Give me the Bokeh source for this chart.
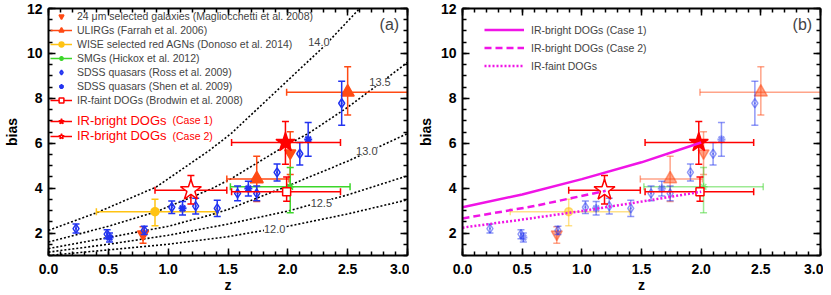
import numpy as np
from bokeh.plotting import figure
from bokeh.models import (Range1d, LinearAxis, SingleIntervalTicker, PrintfTickFormatter,
                          CustomJSTickFormatter, Legend, LegendItem, Label)
from bokeh.layouts import row
from bokeh.embed import file_html
from bokeh.resources import INLINE

# ------------------------------------------------------------------ data
# 24 um selected galaxies (Magliocchetti et al. 2008)
mag_z = [0.79, 2.02]
mag_b = [1.95, 5.56]
mag_b_lo = [0.40, 0.95]
mag_b_hi = [0.33, 0.95]

# ULIRGs (Farrah et al. 2006)
far_z = [1.74, 2.50]
far_z_lo = [0.25, 0.51]
far_z_hi = [0.27, 0.50]
far_b = [4.41, 8.27]
far_b_lo = [1.00, 1.01]
far_b_hi = [1.01, 1.14]

# WISE selected red AGNs (Donoso et al. 2014)
wise_z = [0.89]
wise_z_lo = [0.49]
wise_z_hi = [0.51]
wise_b = [2.95]
wise_b_lo = [0.62]
wise_b_hi = [0.56]

# SMGs (Hickox et al. 2012)
smg_z = [2.02]
smg_z_lo = [0.50]
smg_z_hi = [0.50]
smg_b = [4.06]
smg_b_lo = [1.16]
smg_b_hi = [0.86]

# SDSS quasars (Ross et al. 2009)
ross_z = [0.23, 0.49, 0.80, 1.03, 1.23, 1.41, 1.58, 1.74, 1.91, 2.10, 2.45]
ross_b = [2.20, 1.95, 2.12, 3.15, 3.20, 3.10, 3.77, 3.77, 4.70, 5.53, 7.78]
ross_err = [0.20, 0.20, 0.18, 0.28, 0.35, 0.36, 0.33, 0.33, 0.38, 0.50, 0.98]

# SDSS quasars (Shen et al. 2009)
shen_z = [0.51, 1.12, 1.67, 2.17]
shen_b = [1.80, 3.10, 3.98, 6.17]
shen_err = [0.20, 0.30, 0.33, 0.75]

# IR-faint DOGs (Brodwin et al. 2008)
faint_z = [1.99]
faint_z_lo = [0.46]
faint_z_hi = [0.45]
faint_b = [3.84]
faint_b_lo = [0.42]
faint_b_hi = [0.66]

# IR-bright DOGs (Case 1)
c1_z = [1.98]
c1_z_lo = [0.45]
c1_z_hi = [0.46]
c1_b = [6.03]
c1_b_lo = [0.97]
c1_b_hi = [0.94]

# IR-bright DOGs (Case 2)
c2_z = [1.19]
c2_z_lo = [0.30]
c2_z_hi = [0.30]
c2_b = [3.91]
c2_b_lo = [0.62]
c2_b_hi = [0.65]

# halo-mass bias tracks (log M)
m140_z = [0.0, 0.4, 0.9, 1.35, 1.53, 1.98, 2.3, 2.6]
m140_b = [2.12, 2.90, 4.05, 5.70, 6.45, 8.70, 10.30, 12.00]
m135_z = [0.0, 0.5, 0.9, 1.35, 1.52, 2.0, 2.17, 2.5, 2.79, 3.0]
m135_b = [1.60, 2.30, 2.95, 3.94, 4.40, 5.95, 6.43, 7.60, 8.75, 9.60]
m130_z = [0.0, 0.5, 1.0, 1.35, 1.5, 2.0, 2.5, 2.68, 3.0]
m130_b = [1.31, 1.80, 2.30, 2.80, 3.05, 4.10, 5.20, 5.64, 6.43]
m125_z = [0.0, 0.5, 1.0, 1.5, 2.0, 2.5, 3.0]
m125_b = [1.15, 1.50, 1.90, 2.40, 2.98, 3.70, 4.55]
m120_z = [0.0, 0.5, 1.0, 1.5, 2.0, 2.5, 3.0]
m120_b = [1.00, 1.25, 1.50, 1.84, 2.30, 2.85, 3.48]
mass_names = ["14.0", "13.5", "13.0", "12.5", "12.0"]

# model lines in panel (b)
case1_line_z = [0.0, 0.5, 1.0, 1.5, 2.0]
case1_line_b = [3.15, 3.72, 4.40, 5.15, 6.03]
case2_line_z = [0.0, 0.6, 1.2]
case2_line_b = [2.65, 3.20, 3.88]
faint_line_z = [0.0, 0.5, 1.0, 1.5, 2.0]
faint_line_b = [2.24, 2.60, 2.98, 3.40, 3.84]

# ------------------------------------------------------------------ style
FONT = "Liberation Sans"
ORANGE = "#ff4a14"
GOLD = "#ffc313"
GREEN = "#3cd62a"
BLUE = "#2233f0"
RED = "#ff0000"
MAGENTA = "#f014e6"
H = 295
# where the mass-track labels sit (annotation placement)
MASS_LABEL_POS = [(2.26, 10.5), (2.77, 8.72), (2.66, 5.64), (2.28, 3.34), (1.89, 2.16)]


def make_fig(width, left_border, right_border):
    p = figure(width=width, height=H, x_range=Range1d(0, 3), y_range=Range1d(1, 12),
               output_backend="svg", toolbar_location=None,
               min_border_left=left_border, min_border_right=right_border,
               min_border_top=8, min_border_bottom=0)
    p.xgrid.visible = False
    p.ygrid.visible = False
    p.outline_line_color = None
    xt = SingleIntervalTicker(interval=0.5, num_minor_ticks=5)
    yt = SingleIntervalTicker(interval=2, num_minor_ticks=4)
    bottom = p.below[0]
    left = p.left[0]
    bottom.ticker = xt
    left.ticker = yt
    bottom.formatter = PrintfTickFormatter(format="%.1f")
    bottom.axis_label = "z"
    left.axis_label = "bias"
    blank = CustomJSTickFormatter(code="return ''")
    top = LinearAxis(ticker=xt, formatter=blank)
    right = LinearAxis(ticker=yt, formatter=blank)
    p.add_layout(top, "above")
    p.add_layout(right, "right")
    for ax in (bottom, left, top, right):
        ax.major_tick_in = 7
        ax.major_tick_out = 0
        ax.minor_tick_in = 4
        ax.minor_tick_out = 0
        ax.axis_line_width = 2
        ax.major_tick_line_width = 1.5
        ax.minor_tick_line_width = 1.5
        ax.axis_line_color = "black"
        ax.major_tick_line_color = "black"
        ax.minor_tick_line_color = "black"
        ax.major_label_text_font = FONT
        ax.major_label_text_font_size = "14px"
        ax.major_label_text_font_style = "bold"
        ax.major_label_text_color = "black"
        ax.axis_label_text_font = FONT
        ax.axis_label_text_font_size = "14px"
        ax.axis_label_text_font_style = "bold"
        ax.axis_label_text_color = "black"
    for ax in (top, right):
        ax.major_label_text_font_size = "1px"
        ax.major_label_standoff = 0
    bottom.major_label_standoff = 8
    bottom.axis_label_standoff = 0
    left.major_label_standoff = 6
    left.axis_label_standoff = 4
    return p


def add_sample(p, z, b, b_lo, b_hi, z_lo=None, z_hi=None, color="black", alpha=1.0,
               marker="circle", size=8, fill=True, fill_color=None, mlw=1.5, lw=1.5):
    z = np.asarray(z, float)
    b = np.asarray(b, float)
    blo = b - np.asarray(b_lo, float)
    bhi = b + np.asarray(b_hi, float)
    out = {}
    out["yseg"] = p.segment(x0=z, y0=blo, x1=z, y1=bhi, line_color=color,
                            line_alpha=alpha, line_width=lw)
    out["ycap"] = p.scatter(x=np.concatenate([z, z]), y=np.concatenate([blo, bhi]),
                            marker="dash", size=7, line_color=color, line_alpha=alpha,
                            line_width=lw)
    if z_lo is not None:
        zl = z - np.asarray(z_lo, float)
        zh = z + np.asarray(z_hi, float)
        out["xseg"] = p.segment(x0=zl, y0=b, x1=zh, y1=b, line_color=color,
                                line_alpha=alpha, line_width=lw)
        out["xcap"] = p.scatter(x=np.concatenate([zl, zh]), y=np.concatenate([b, b]),
                                marker="dash", angle=np.pi / 2, size=7, line_color=color,
                                line_alpha=alpha, line_width=lw)
    if fill:
        fc = color
        fa = alpha
    elif fill_color is None:
        fc = "white"
        fa = 0.0
    else:
        fc = fill_color
        fa = 1.0
    out["mark"] = p.scatter(x=z, y=b, marker=marker, size=size, line_color=color,
                            line_alpha=alpha, fill_color=fc, fill_alpha=fa, line_width=mlw)
    return out


def draw_all(p, lit_alpha):
    r = {}
    r["mag"] = add_sample(p, mag_z, mag_b, mag_b_lo, mag_b_hi, color=ORANGE, alpha=lit_alpha,
                          marker="inverted_triangle", size=11)
    r["far"] = add_sample(p, far_z, far_b, far_b_lo, far_b_hi, far_z_lo, far_z_hi, color=ORANGE,
                          alpha=lit_alpha, marker="triangle", size=13)
    r["wise"] = add_sample(p, wise_z, wise_b, wise_b_lo, wise_b_hi, wise_z_lo, wise_z_hi,
                           color=GOLD, alpha=lit_alpha, marker="circle", size=8)
    r["smg"] = add_sample(p, smg_z, smg_b, smg_b_lo, smg_b_hi, smg_z_lo, smg_z_hi, color=GREEN,
                          alpha=lit_alpha, marker="asterisk", size=8, mlw=1.5)
    r["ross"] = add_sample(p, ross_z, ross_b, ross_err, ross_err, color=BLUE, alpha=lit_alpha,
                           marker="diamond_dot", size=9, fill=False, mlw=1.5)
    r["shen"] = add_sample(p, shen_z, shen_b, shen_err, shen_err, color=BLUE, alpha=lit_alpha,
                           marker="asterisk", size=8, mlw=2)
    r["faint"] = add_sample(p, faint_z, faint_b, faint_b_lo, faint_b_hi, faint_z_lo, faint_z_hi,
                            color=RED, marker="square", size=8, fill=False, fill_color="white")
    r["c1"] = add_sample(p, c1_z, c1_b, c1_b_lo, c1_b_hi, c1_z_lo, c1_z_hi, color=RED,
                         marker="star", size=20)
    r["c2"] = add_sample(p, c2_z, c2_b, c2_b_lo, c2_b_hi, c2_z_lo, c2_z_hi, color=RED,
                         marker="star", size=22, fill=False, fill_color="white")
    return r


# ------------------------------------------------------------------ panel (a)
p1 = make_fig(409, 48, 2)

tracks = [(m140_z, m140_b), (m135_z, m135_b), (m130_z, m130_b),
          (m125_z, m125_b), (m120_z, m120_b)]
for (tz, tb), name, (lx, ly) in zip(tracks, mass_names, MASS_LABEL_POS):
    p1.line(tz, tb, line_color="black", line_width=1.6, line_dash="2 2")
    p1.add_layout(Label(x=lx, y=ly, text=name, text_font=FONT, text_font_size="11px",
                        text_align="center", text_baseline="middle",
                        background_fill_color="white", background_fill_alpha=1.0))

ra = draw_all(p1, 1.0)


def items_for(r):
    rs = []
    if "xseg" in r:
        rs.append(r["xseg"])
    rs.append(r["mark"])
    return rs


leg_black = Legend(items=[
    LegendItem(label="24 \u03bcm selected galaxies (Magliocchetti et al. 2008)", renderers=items_for(ra["mag"])),
    LegendItem(label="ULIRGs (Farrah et al. 2006)", renderers=items_for(ra["far"])),
    LegendItem(label="WISE selected red AGNs (Donoso et al. 2014)", renderers=items_for(ra["wise"])),
    LegendItem(label="SMGs (Hickox et al. 2012)", renderers=items_for(ra["smg"])),
    LegendItem(label="SDSS quasars (Ross et al. 2009)", renderers=items_for(ra["ross"])),
    LegendItem(label="SDSS quasars (Shen et al. 2009)", renderers=items_for(ra["shen"])),
    LegendItem(label="IR-faint DOGs (Brodwin et al. 2008)", renderers=items_for(ra["faint"])),
], location="top_left", margin=2, padding=1, spacing=2, glyph_width=22, glyph_height=12,
   label_height=12, label_standoff=5, label_text_font=FONT, label_text_font_size="10.5px",
   background_fill_alpha=0, border_line_color=None)
p1.add_layout(leg_black)

leg_red = Legend(items=[
    LegendItem(label="IR-bright DOGs", renderers=items_for(ra["c1"])),
    LegendItem(label="IR-bright DOGs", renderers=items_for(ra["c2"])),
], location=(2, 112), margin=0, padding=2, spacing=0, glyph_width=22, glyph_height=14,
   label_height=14, label_standoff=5, label_text_font=FONT, label_text_font_size="13px",
   label_text_color=RED, background_fill_alpha=0, border_line_color=None)
p1.add_layout(leg_red)
for txt, yy in (("(Case 1)", 130), ("(Case 2)", 114)):
    p1.add_layout(Label(x=124, y=yy, x_units="screen", y_units="screen", text=txt,
                        text_font=FONT, text_font_size="10.5px", text_color=RED,
                        text_baseline="bottom"))

p1.add_layout(Label(x=2.93, y=11.3, text="(a)", text_font=FONT, text_font_size="16px",
                    text_align="right", text_baseline="middle"))

# ------------------------------------------------------------------ panel (b)
p2 = make_fig(414, 53, 3)
draw_all(p2, 0.5)
l1 = p2.line(case1_line_z, case1_line_b, line_color=MAGENTA, line_width=2.5)
l2 = p2.line(case2_line_z, case2_line_b, line_color=MAGENTA, line_width=2.5, line_dash="7 4")
l3 = p2.line(faint_line_z, faint_line_b, line_color=MAGENTA, line_width=2.5, line_dash="2 2")
leg_b = Legend(items=[
    LegendItem(label="IR-bright DOGs (Case 1)", renderers=[l1]),
    LegendItem(label="IR-bright DOGs (Case 2)", renderers=[l2]),
    LegendItem(label="IR-faint DOGs", renderers=[l3]),
], location=(22, 183), margin=0, padding=0, spacing=5, glyph_width=40, glyph_height=13,
   label_height=13, label_standoff=7, label_text_font=FONT, label_text_font_size="10.5px",
   background_fill_alpha=0, border_line_color=None)
p2.add_layout(leg_b)
p2.add_layout(Label(x=2.93, y=11.3, text="(b)", text_font=FONT, text_font_size="16px",
                    text_align="right", text_baseline="middle"))

layout = row(p1, p2)
open("out.html", "w").write(file_html(layout, INLINE))
